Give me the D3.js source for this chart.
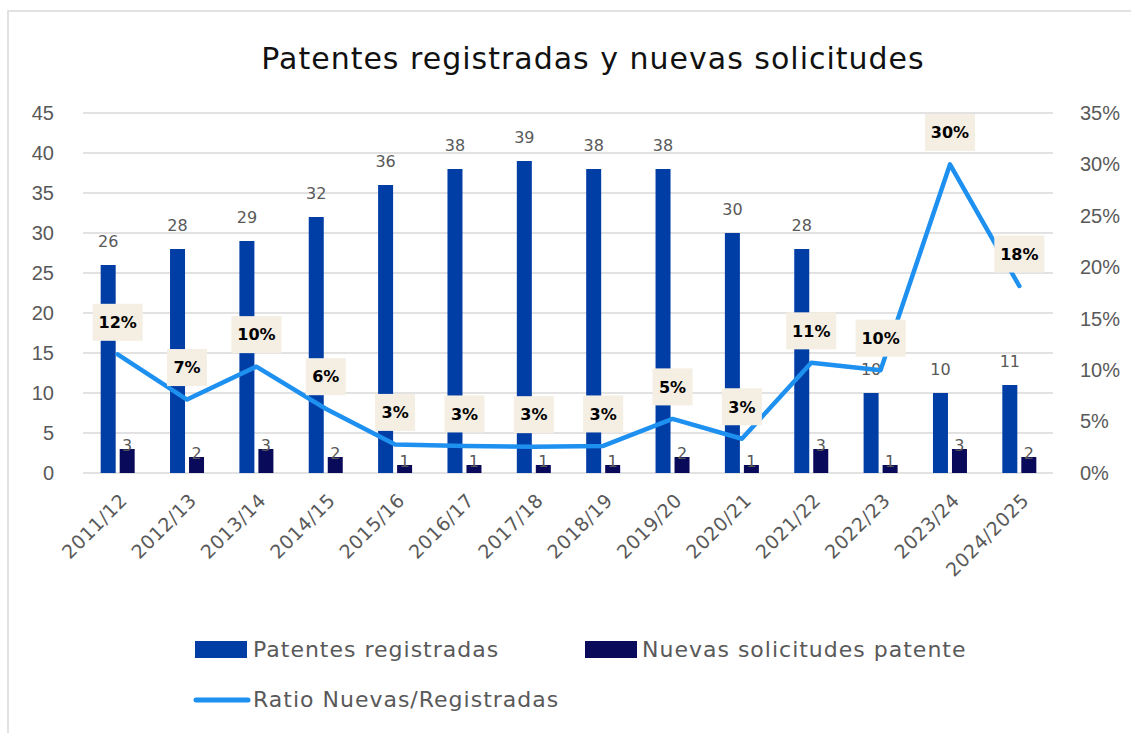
<!DOCTYPE html>
<html>
<head>
<meta charset="utf-8">
<script src="https://cdn.jsdelivr.net/npm/d3@7"></script>
<style>
  html, body { margin: 0; padding: 0; background: #fff; }
  svg { display: block; }
</style>
</head>
<body>
<svg id="chart" width="1131" height="733"></svg>
<script>
// Fiscal years shown on the category axis
const periods = ["2011/12", "2012/13", "2013/14", "2014/15", "2015/16", "2016/17", "2017/18",
                 "2018/19", "2019/20", "2020/21", "2021/22", "2022/23", "2023/24", "2024/2025"];
// Patents registered per year
const registradas = [26, 28, 29, 32, 36, 38, 39, 38, 38, 30, 28, 10, 10, 11];
// New patent applications per year
const nuevas = [3, 2, 3, 2, 1, 1, 1, 1, 2, 1, 3, 1, 3, 2];
// Ratio new / registered
const ratio = [0.1154, 0.0714, 0.1034, 0.0625, 0.0278, 0.0263, 0.0256, 0.0263, 0.0526, 0.0333,
               0.1071, 0.1000, 0.3000, 0.1818];
const leftTicks = [0, 5, 10, 15, 20, 25, 30, 35, 40, 45];
const rightTicks = [0, 0.05, 0.10, 0.15, 0.20, 0.25, 0.30, 0.35];

const seriesNames = ["Patentes registradas", "Nuevas solicitudes patente", "Ratio Nuevas/Registradas"];
const colors = { reg: "#003DA5", nue: "#0A0A5A", ratio: "#1E90F0" };
const FONT = "'DejaVu Sans', 'Noto Sans', sans-serif";
const TICKFONT = "'Liberation Sans', Arial, sans-serif";
const TXT = "#595959";

const svg = d3.select("#chart");

// chart border (left and top edges visible)
svg.append("rect").attr("x", 8).attr("y", 11).attr("width", 1140).attr("height", 740)
  .attr("fill", "none").attr("stroke", "#d9d9d9").attr("stroke-width", 1.5);

const plot = { left: 83, right: 1054, top: 113, bottom: 473 };

const x = d3.scaleBand().domain(periods).range([plot.left, plot.right]);
const yL = d3.scaleLinear().domain([0, 45]).range([plot.bottom, plot.top]);
const yR = d3.scaleLinear().domain([0, 0.35]).range([plot.bottom, plot.top]);

// title
svg.append("text").attr("x", 593).attr("y", 69).attr("text-anchor", "middle")
  .attr("font-family", FONT).attr("font-size", 30).attr("letter-spacing", 1).attr("fill", "#111")
  .text("Patentes registradas y nuevas solicitudes");

// gridlines
svg.append("g").selectAll("line").data(leftTicks).join("line")
  .attr("x1", plot.left).attr("x2", plot.right - 1)
  .attr("y1", d => yL(d)).attr("y2", d => yL(d))
  .attr("stroke", "#d9d9d9").attr("stroke-width", 1.5);

// left axis
const axL = svg.append("g").attr("transform", `translate(${plot.left - 29},0)`)
  .call(d3.axisLeft(yL).tickValues(leftTicks).tickSize(0).tickPadding(0));
axL.select(".domain").remove();
axL.selectAll("text").attr("font-family", TICKFONT).attr("font-size", 20).attr("fill", TXT);

// right axis
const axR = svg.append("g").attr("transform", `translate(${plot.right + 26},0)`)
  .call(d3.axisRight(yR).tickValues(rightTicks).tickFormat(d3.format(".0%")).tickSize(0).tickPadding(0));
axR.select(".domain").remove();
axR.selectAll("text").attr("font-family", TICKFONT).attr("font-size", 20).attr("fill", TXT);

// x axis labels, rotated
svg.append("g").selectAll("text").data(periods).join("text")
  .attr("transform", d => `translate(${x(d) + x.bandwidth() / 2 + 6},${plot.bottom + 24}) rotate(-45)`)
  .attr("text-anchor", "end").attr("dy", "0.35em")
  .attr("font-family", FONT).attr("font-size", 19).attr("letter-spacing", 0.5).attr("fill", TXT)
  .text(d => d);

const barW = 15, gap = 4;
const cx = d => x(d) + x.bandwidth() / 2;

// registered patents bars
svg.append("g").selectAll("rect").data(periods).join("rect")
  .attr("x", d => cx(d) - gap / 2 - barW)
  .attr("y", (d, i) => yL(registradas[i]))
  .attr("width", barW)
  .attr("height", (d, i) => yL(0) - yL(registradas[i]))
  .attr("fill", colors.reg);

// new applications bars
svg.append("g").selectAll("rect").data(periods).join("rect")
  .attr("x", d => cx(d) + gap / 2)
  .attr("y", (d, i) => yL(nuevas[i]))
  .attr("width", barW)
  .attr("height", (d, i) => yL(0) - yL(nuevas[i]))
  .attr("fill", colors.nue);

// bar value labels
svg.append("g").selectAll("text").data(periods).join("text")
  .attr("x", d => cx(d) - gap / 2 - barW / 2)
  .attr("y", (d, i) => yL(registradas[i]) - 24)
  .attr("dy", "0.35em").attr("text-anchor", "middle")
  .attr("font-family", FONT).attr("font-size", 16).attr("fill", TXT)
  .text((d, i) => registradas[i]);

svg.append("g").selectAll("text").data(periods).join("text")
  .attr("x", d => cx(d) + gap / 2 + barW / 2)
  .attr("y", (d, i) => yL(nuevas[i]) - 4)
  .attr("dy", "0.35em").attr("text-anchor", "middle")
  .attr("font-family", FONT).attr("font-size", 16).attr("fill", TXT)
  .text((d, i) => nuevas[i]);

// ratio line
const line = d3.line().x(d => cx(d.p)).y(d => yR(d.v));
const pts = periods.map((p, i) => ({ p, v: ratio[i] }));
svg.append("path").datum(pts).attr("d", line)
  .attr("fill", "none").attr("stroke", colors.ratio).attr("stroke-width", 4.5)
  .attr("stroke-linejoin", "round").attr("stroke-linecap", "round");

// ratio labels in boxes
const pct = v => Math.round(v * 100) + "%";
const lbl = svg.append("g").selectAll("g").data(pts).join("g")
  .attr("transform", d => `translate(${cx(d.p)},${yR(d.v) - 32})`);
lbl.append("rect")
  .attr("x", d => -(pct(d.v).length * 10 + 20) / 2)
  .attr("width", d => pct(d.v).length * 10 + 20)
  .attr("y", -18.5).attr("height", 37)
  .attr("fill", "#F5EEE3");
lbl.append("text").attr("text-anchor", "middle").attr("dy", "0.36em")
  .attr("font-family", FONT).attr("font-weight", 700).attr("font-size", 16).attr("fill", "#000")
  .text(d => pct(d.v));

// legend
const leg = svg.append("g").attr("font-family", FONT).attr("font-size", 22)
  .attr("letter-spacing", 1).attr("fill", TXT);
leg.append("rect").attr("x", 195).attr("y", 641).attr("width", 52).attr("height", 17).attr("fill", colors.reg);
leg.append("text").attr("x", 253).attr("y", 649).attr("dy", "0.35em").text(seriesNames[0]);
leg.append("rect").attr("x", 585).attr("y", 641).attr("width", 52).attr("height", 17).attr("fill", colors.nue);
leg.append("text").attr("x", 642).attr("y", 649).attr("dy", "0.35em").text(seriesNames[1]);
leg.append("line").attr("x1", 196).attr("x2", 248).attr("y1", 700).attr("y2", 700)
  .attr("stroke", colors.ratio).attr("stroke-width", 5).attr("stroke-linecap", "round");
leg.append("text").attr("x", 253).attr("y", 699).attr("dy", "0.35em").text(seriesNames[2]);
</script>
</body>
</html>
